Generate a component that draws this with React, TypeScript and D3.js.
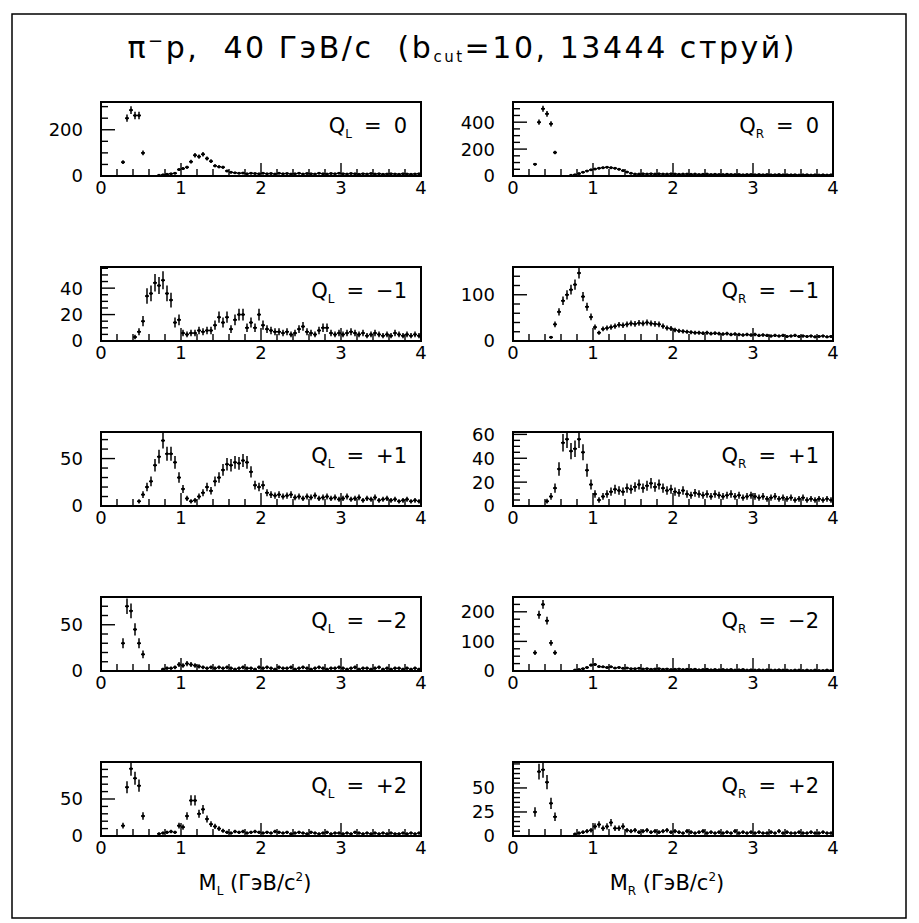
import React from "react";
import * as d3 from "d3";

// 80 mass bins of 0.05 GeV/c^2 from 0 to 4
const nBins = 80;
const binWidth = 0.05;
const massBins = d3.range(nBins).map((i) => binWidth / 2 + i * binWidth);
const _ = null;

const qL0 = [
  _, _, _, _, _, 60, 250, 285, 262, 262,
  100, _, _, _, 3, 5, 8, 10, 12, 28,
  32, 38, 62, 90, 84, 94, 76, 64, 44, 40,
  38, 22, 16, 14, 12, 13, 10, 12, 11, 10,
  12, 10, 11, 9, 12, 10, 11, 9, 10, 12,
  9, 11, 10, 9, 12, 10, 9, 11, 10, 12,
  10, 9, 11, 10, 8, 10, 9, 11, 9, 10,
  8, 9, 10, 9, 8, 10, 9, 8, 9, 10,
];
const qR0 = [
  _, _, _, _, _, 88, 400, 500, 462, 388,
  175, _, _, _, 5, 10, 18, 28, 38, 46,
  52, 58, 62, 65, 62, 58, 50, 40, 30, 20,
  15, 14, 16, 15, 17, 14, 16, 15, 14, 16,
  15, 13, 14, 15, 13, 14, 12, 13, 14, 12,
  13, 12, 11, 13, 12, 11, 12, 10, 11, 12,
  10, 11, 10, 11, 9, 10, 11, 9, 10, 9,
  10, 8, 9, 10, 8, 9, 8, 9, 8, 9,
];
const qLm1 = [
  _, _, _, _, _, _, _, _, 3, 7,
  15, 34, 36, 44, 42, 46, 36, 31, 14, 16,
  6, 5, 6, 6, 8, 7, 8, 8, 12, 18,
  14, 18, 9, 16, 20, 20, 10, 14, 10, 20,
  12, 9, 8, 7, 7, 6, 7, 5, 6, 9,
  11, 7, 6, 5, 8, 10, 10, 6, 5, 6,
  5, 6, 7, 6, 5, 6, 4, 5, 6, 5,
  4, 5, 4, 6, 5, 4, 5, 4, 5, 4,
];
const qRm1 = [
  _, _, _, _, _, _, _, _, _, 8,
  36, 63, 87, 100, 111, 122, 147, 96, 74, 52,
  30, 18, 26, 28, 30, 32, 35, 34, 36, 38,
  37, 39, 38, 40, 38, 37, 36, 32, 28, 27,
  24, 22, 21, 20, 19, 18, 18, 17, 18, 16,
  17, 16, 15, 16, 14, 15, 14, 13, 14, 13,
  14, 12, 13, 12, 11, 12, 11, 12, 10, 11,
  12, 10, 11, 10, 11, 9, 10, 11, 9, 10,
];
const qLp1 = [
  _, _, _, _, _, _, _, _, _, 5,
  12, 20, 26, 43, 52, 69, 55, 55, 46, 30,
  18, 8, 5, 6, 10, 14, 20, 16, 26, 30,
  38, 44, 43, 46, 45, 48, 46, 36, 22, 20,
  22, 14, 12, 11, 12, 10, 11, 12, 9, 10,
  8, 10, 9, 11, 8, 9, 10, 8, 9, 7,
  8, 10, 7, 8, 9, 6, 8, 7, 9, 6,
  7, 8, 6, 7, 5, 6, 7, 5, 6, 5,
];
const qRp1 = [
  _, _, _, _, _, _, _, _, 4, 8,
  15, 31, 53, 56, 46, 48, 56, 45, 30, 18,
  10, 5, 8, 10, 12, 14, 13, 12, 15, 14,
  16, 18, 15, 17, 19, 16, 18, 15, 13, 14,
  12, 11, 13, 10, 9, 11, 10, 9, 10, 8,
  10, 9, 8, 9, 10, 8, 9, 7, 8, 9,
  8, 7, 8, 6, 7, 8, 6, 7, 6, 7,
  5, 6, 7, 5, 6, 5, 6, 5, 6, 5,
];
const qLm2 = [
  _, _, _, _, _, 30, 70, 65, 45, 30,
  18, _, _, _, _, 2, 3, 3, 4, 7,
  6, 8, 7, 6, 5, 4, 3, 4, 3, 4,
  3, 4, 3, 2, 3, 4, 3, 3, 2, 4,
  3, 4, 3, 2, 4, 3, 3, 4, 2, 3,
  4, 3, 2, 3, 4, 3, 2, 3, 3, 4,
  3, 2, 3, 4, 2, 3, 3, 2, 3, 4,
  2, 3, 2, 3, 3, 2, 3, 2, 3, 2,
];
const qRm2 = [
  _, _, _, _, _, 62, 190, 225, 170, 95,
  62, _, _, _, _, 3, 5, 8, 12, 20,
  22, 15, 14, 12, 14, 10, 12, 9, 10, 8,
  8, 9, 7, 8, 6, 7, 8, 6, 7, 5,
  6, 7, 5, 6, 5, 6, 4, 5, 6, 4,
  5, 4, 5, 4, 5, 3, 4, 5, 3, 4,
  3, 4, 3, 4, 3, 3, 4, 3, 3, 2,
  3, 3, 2, 3, 2, 3, 2, 2, 3, 2,
];
const qLp2 = [
  _, _, _, _, _, 14, 66, 91, 78, 68,
  27, _, _, _, 3, 4, 5, 6, 5, 14,
  12, 27, 48, 48, 30, 36, 23, 16, 13, 10,
  7, 5, 4, 6, 5, 6, 4, 5, 6, 5,
  4, 5, 4, 6, 5, 4, 5, 3, 4, 5,
  4, 3, 5, 4, 3, 4, 5, 3, 4, 4,
  3, 4, 3, 5, 4, 3, 4, 3, 4, 3,
  4, 3, 4, 3, 3, 4, 3, 4, 3, 4,
];
const qRp2 = [
  _, _, _, _, _, 25, 67, 69, 56, 34,
  20, _, _, _, _, 2, 3, 4, 5, 6,
  10, 12, 8, 10, 14, 8, 8, 10, 6, 5,
  6, 4, 5, 6, 4, 5, 4, 5, 6, 4,
  5, 4, 3, 5, 4, 3, 4, 5, 3, 4,
  3, 4, 3, 4, 3, 5, 3, 4, 3, 4,
  3, 4, 3, 3, 4, 3, 5, 3, 4, 3,
  3, 4, 3, 3, 4, 3, 3, 4, 3, 3,
];

const xLabels = [0, 1, 2, 3, 4];
const charges = ["0", "\u22121", "+1", "\u22122", "+2"];

// left column (Q_L) and right column (Q_R), one entry per row
const leftPanels = [
  { values: qL0, yMax: 320, yLabels: [0, 200], yStep: 50 },
  { values: qLm1, yMax: 56, yLabels: [0, 20, 40], yStep: 5 },
  { values: qLp1, yMax: 78, yLabels: [0, 50], yStep: 10 },
  { values: qLm2, yMax: 80, yLabels: [0, 50], yStep: 10 },
  { values: qLp2, yMax: 100, yLabels: [0, 50], yStep: 10 },
];
const rightPanels = [
  { values: qR0, yMax: 550, yLabels: [0, 200, 400], yStep: 50 },
  { values: qRm1, yMax: 160, yLabels: [0, 100], yStep: 20 },
  { values: qRp1, yMax: 62, yLabels: [0, 20, 40, 60], yStep: 5 },
  { values: qRm2, yMax: 250, yLabels: [0, 100, 200], yStep: 25 },
  { values: qRp2, yMax: 77, yLabels: [0, 25, 50], yStep: 5 },
];

const W = 919;
const H = 923;
const panelW = 320;
const panelH = 74;
const colX = [101, 513];
const rowTop = (r) => 102 + r * 165;
const font = "'DejaVu Sans', 'Liberation Sans', Arial, sans-serif";

function Panel({ cfg, x0, y0, side, charge, id }) {
  const x = d3.scaleLinear().domain([0, 4]).range([x0, x0 + panelW]);
  const y = d3.scaleLinear().domain([0, cfg.yMax]).range([y0 + panelH, y0]);
  const xTicks = d3.range(0, 21).map((i) => i * 0.2);
  const yTicks = d3.range(0, Math.floor(cfg.yMax / cfg.yStep) + 1).map((i) => i * cfg.yStep);
  const bottom = y(0);

  return (
    <g>
      <clipPath id={id}>
        <rect x={x0} y={y0} width={panelW} height={panelH} />
      </clipPath>
      <g clipPath={`url(#${id})`} stroke="#000" strokeWidth={1.5}>
        {cfg.values.map((v, i) => {
          if (v == null || v <= 0) return null;
          const c = massBins[i];
          const err = Math.sqrt(v);
          const cx = x(c);
          const cy = y(v);
          return (
            <g key={i}>
              <line x1={cx} x2={cx} y1={Math.min(y(v - err), bottom)} y2={y(v + err)} />
              <line x1={x(c - binWidth / 2)} x2={x(c + binWidth / 2)} y1={cy} y2={cy} />
              <circle cx={cx} cy={cy} r={1.5} fill="#000" stroke="none" />
            </g>
          );
        })}
      </g>
      <g stroke="#000" strokeWidth={1.4}>
        {xTicks.map((t, i) => {
          const major = i % 5 === 0;
          return (
            <line key={i} x1={x(t)} x2={x(t)} y1={bottom} y2={bottom - (major ? 13 : 7)} />
          );
        })}
        {yTicks.map((t, i) => {
          const major = cfg.yLabels.includes(t);
          return (
            <line key={i} x1={x0} x2={x0 + (major ? 14 : 7)} y1={y(t)} y2={y(t)} />
          );
        })}
      </g>
      <rect x={x0} y={y0} width={panelW} height={panelH} fill="none" stroke="#000" strokeWidth={2} />
      <g fontFamily={font} fontSize={18} fill="#000">
        {xLabels.map((t) => (
          <text key={t} x={x(t)} y={bottom + 18} textAnchor="middle">
            {t}
          </text>
        ))}
        {cfg.yLabels.map((t) => (
          <text key={t} x={x0 - 18} y={y(t)} dy="0.36em" textAnchor="end">
            {t}
          </text>
        ))}
      </g>
      <text
        x={x0 + panelW - 14}
        y={y0 + 31}
        textAnchor="end"
        fontFamily={font}
        fontSize={21}
        fill="#000"
      >
        Q
        <tspan fontSize={12} dy={5}>
          {side}
        </tspan>
        <tspan dy={-5} dx={12}>
          =
        </tspan>
        <tspan dx={12}>{charge}</tspan>
      </text>
    </g>
  );
}

export default function App() {
  return (
    <svg
      width={W}
      height={H}
      style={{ position: "absolute", left: 0, top: 0, background: "#fff" }}
    >
      <rect x={0} y={0} width={W} height={H} fill="#fff" />
      <rect x={12} y={14} width={894} height={904} fill="none" stroke="#000" strokeWidth={1.5} />
      <text
        x={461}
        y={58}
        textAnchor="middle"
        fontFamily={font}
        fontSize={30}
        fill="#000"
        textLength={667}
        lengthAdjust="spacing"
        style={{ whiteSpace: "pre" }}
      >
        π
        <tspan fontSize={18} dy={-11}>
          −
        </tspan>
        <tspan dy={11}>p,  40 ГэВ/с  (b</tspan>
        <tspan fontSize={15} dy={4}>
          cut
        </tspan>
        <tspan dy={-4}>=10, 13444 струй)</tspan>
      </text>
      {leftPanels.map((cfg, r) => (
        <Panel key={"L" + r} id={"clipL" + r} cfg={cfg} x0={colX[0]} y0={rowTop(r)} side="L" charge={charges[r]} />
      ))}
      {rightPanels.map((cfg, r) => (
        <Panel key={"R" + r} id={"clipR" + r} cfg={cfg} x0={colX[1]} y0={rowTop(r)} side="R" charge={charges[r]} />
      ))}
      {["L", "R"].map((s, i) => (
        <text
          key={s}
          x={colX[i] + panelW / 2 - 6}
          y={890}
          textAnchor="middle"
          fontFamily={font}
          fontSize={21}
          fill="#000"
        >
          M
          <tspan fontSize={12} dy={5}>
            {s}
          </tspan>
          <tspan dy={-5} style={{ whiteSpace: "pre" }}> (ГэВ/c</tspan>
          <tspan fontSize={12} dy={-9}>
            2
          </tspan>
          <tspan dy={9}>)</tspan>
        </text>
      ))}
    </svg>
  );
}
